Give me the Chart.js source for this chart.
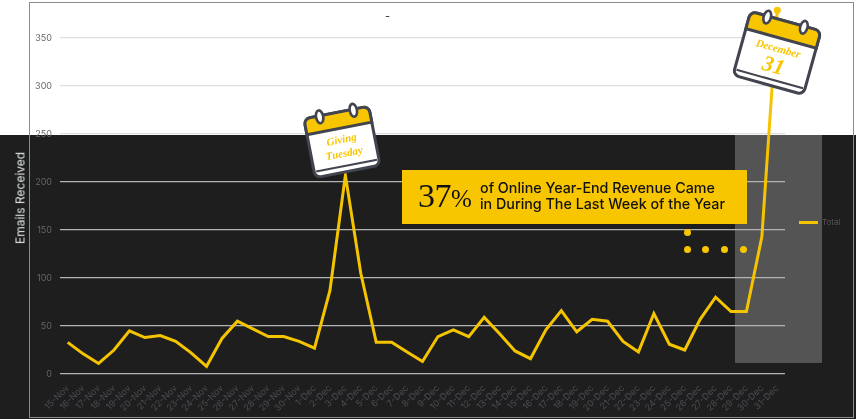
<!DOCTYPE html>
<html>
<head>
<meta charset="utf-8">
<script src="https://cdn.jsdelivr.net/npm/chart.js@4"></script>
<style>
html, body { margin: 0; padding: 0; background: #fff; }
#wrap { position: relative; width: 856px; height: 419px; overflow: hidden; font-family: Inter, sans-serif; }
#wrap > * { position: absolute; }
#dark { left: 0; top: 135px; width: 856px; height: 284px; background: #1e1e1e; }
#shade { left: 735px; top: 135px; width: 87px; height: 228px; background: #545454; }
#frame { left: 29px; top: 2px; width: 823px; height: 414px; border: 1px solid #8c8c8c; }
canvas { left: 0; top: 0; }
#title { left: 385px; top: 10px; font-size: 11px; color: #333; line-height: 13px; }
#yTitle { left: 20px; top: 198px; transform: translate(-50%, -50%) rotate(-90deg); font-size: 12px; color: #dfe6e6; white-space: nowrap; }
#callout { left: 402px; top: 170px; width: 345px; height: 54px; background: #f7c600; color: #111; }
#callout .big { position: absolute; left: 16px; top: 7px; font: 34px "Liberation Serif", serif; letter-spacing: -0.5px; white-space: nowrap; }
#callout .big span { font-size: 25px; }
#callout .txt { position: absolute; left: 78px; top: 10px; font-size: 14.3px; font-weight: 500; line-height: 16px; white-space: nowrap; }
.dot { width: 7px; height: 7px; border-radius: 50%; background: #f7c600; }
#legend { left: 799px; top: 216px; font-size: 8px; color: #555; line-height: 12px; padding-left: 23px; }
#legend i { position: absolute; left: 0; top: 5px; width: 19px; height: 2.5px; background: #f5c400; }
#overlay { left: 0; top: 0; }
</style>
</head>
<body>
<div id="wrap">
  <div id="dark"></div>
  <div id="shade"></div>
  <div id="frame"></div>
  <canvas id="emailChart" width="856" height="419"></canvas>
  <div id="title">-</div>
  <div id="yTitle">Emails Received</div>
  <div id="legend"><i></i><span id="legendText"></span></div>
  <div id="callout">
    <div class="big">37<span>%</span></div>
    <div class="txt">of Online Year-End Revenue Came<br>in During The Last Week of the Year</div>
  </div>
  <svg id="overlay" width="856" height="419"></svg>
</div>
<script>
const days = ['15-Nov','16-Nov','17-Nov','18-Nov','19-Nov','20-Nov','21-Nov','22-Nov','23-Nov','24-Nov','25-Nov','26-Nov','27-Nov','28-Nov','29-Nov','30-Nov',
    '1-Dec','2-Dec','3-Dec','4-Dec','5-Dec','6-Dec','7-Dec','8-Dec','9-Dec','10-Dec','11-Dec','12-Dec','13-Dec','14-Dec','15-Dec','16-Dec','17-Dec','18-Dec',
    '19-Dec','20-Dec','21-Dec','22-Dec','23-Dec','24-Dec','25-Dec','26-Dec','27-Dec','28-Dec','29-Dec','30-Dec','31-Dec'];
const totals = [33,21,11,25,45,38,40,34,22,8,37,55,47,39,39,34,
    27,87,207,105,33,33,23,13,39,46,39,59,42,24,16,46,66,44,
    57,55,34,23,63,31,25,57,80,65,65,143,379];
const seriesName = 'Total';

document.getElementById('legendText').textContent = seriesName;

new Chart(document.getElementById('emailChart'), {
    type: 'line',
    data: {
        labels: days,
        datasets: [{
            label: seriesName,
            data: totals,
            borderColor: '#f5c400',
            borderWidth: 3,
            tension: 0,
            clip: false,
            pointRadius: ctx => ctx.dataIndex === totals.length - 1 ? 3.5 : 0,
            pointBackgroundColor: '#f7c600',
            pointBorderWidth: 0
        }]
    },
    options: {
        responsive: false,
        animation: false,
        layout: { padding: { top: 4.4, right: 71, bottom: 0, left: 0 } },
        plugins: {
            legend: { display: false },
            tooltip: { enabled: false }
        },
        scales: {
            x: {
                offset: true,
                grid: { display: false },
                border: { display: false },
                afterFit: s => { s.height = 45; },
                ticks: {
                    autoSkip: false,
                    minRotation: 45,
                    maxRotation: 45,
                    padding: 1,
                    color: '#4b4d55',
                    font: { family: 'Inter', size: 9 }
                }
            },
            y: {
                min: 0,
                max: 385,   // room for the last point, ticks stop at 350
                afterFit: s => { s.width = 60; },
                afterBuildTicks: s => { s.ticks = s.ticks.filter(t => t.value <= 350); },
                border: { display: false },
                grid: {
                    // lines sit on white above the dark band and on dark below it
                    color: ctx => ctx.tick && ctx.tick.value >= 250 ? '#dedede' : '#b4b4b4',
                    lineWidth: 1.3,
                    tickColor: 'transparent',
                    tickLength: 8
                },
                ticks: {
                    stepSize: 50,
                    padding: 0,
                    color: '#666',
                    font: { family: 'Inter', size: 9, lineHeight: 1 }
                }
            }
        }
    }
});

// decorations on top of the chart
const wrap = document.getElementById('wrap');
[[687, 232], [687, 249], [705, 249], [724, 249], [743, 249]].forEach(p => {
    const d = document.createElement('div');
    d.className = 'dot';
    d.style.left = (p[0] - 3.5) + 'px';
    d.style.top = (p[1] - 3.5) + 'px';
    wrap.appendChild(d);
});

function calendar(cx, cy, w, h, angle, line1, size1, line2, size2) {
    const x = -w / 2, y = -h / 2, head = h * 0.27, ink = '#42444f', gold = '#f7c600';
    const ring = rx => `<ellipse cx="${rx}" cy="${y + 1}" rx="3.6" ry="6.5" fill="#fff" stroke="${ink}" stroke-width="2.6"/>`;
    return `<g transform="translate(${cx} ${cy}) rotate(${angle})">
      <rect x="${x}" y="${y}" width="${w}" height="${h}" rx="6" fill="#fff" stroke="${ink}" stroke-width="3"/>
      <path d="M${x} ${y + head}V${y + 6}a6 6 0 0 1 6 -6H${-x - 6}a6 6 0 0 1 6 6V${y + head}Z" fill="${gold}" stroke="${ink}" stroke-width="3"/>
      <path d="M${x + 2} ${-y - 6}H${-x - 2}" stroke="${ink}" stroke-width="2"/>
      ${ring(x + w * 0.24)}${ring(-x - w * 0.24)}
      <text x="0" y="${size2 > 15 ? -1 : 1}" text-anchor="middle" fill="${gold}" font-family="Liberation Serif" font-style="italic" font-weight="bold" font-size="${size1}">${line1}</text>
      <text x="0" y="${size2 > 15 ? 20 : 15}" text-anchor="middle" fill="${gold}" font-family="Liberation Serif" font-style="italic" font-weight="bold" font-size="${size2}">${line2}</text>
    </g>`;
}
document.getElementById('overlay').innerHTML =
    calendar(342, 142, 66, 60, -11, 'Giving', 11, 'Tuesday', 11) +
    calendar(777, 53, 73, 66, 15.5, 'December', 11, '31', 22);
</script>
</body>
</html>
